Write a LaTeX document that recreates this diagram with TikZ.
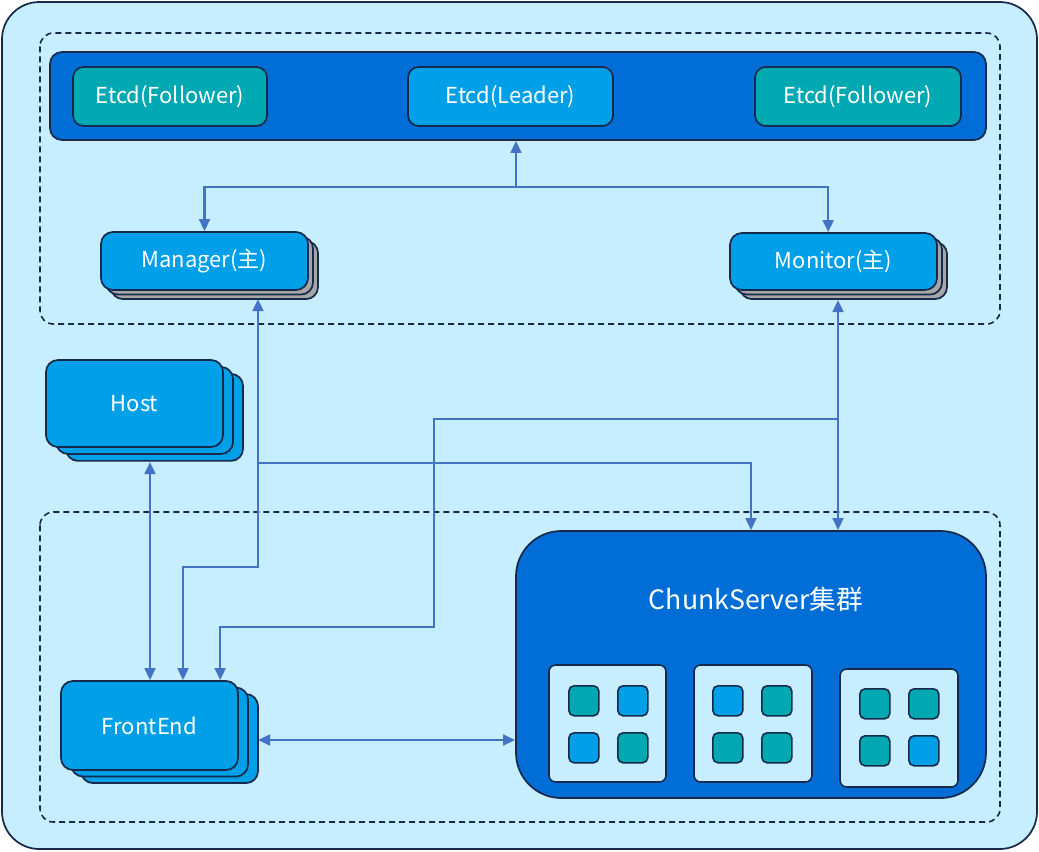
\documentclass[tikz,border=0pt]{standalone}
\usepackage{fontspec}
\setmainfont{Noto Sans CJK SC}
\usetikzlibrary{arrows.meta,fit,shadows,positioning}
\definecolor{canvas}{HTML}{C6EEFE}
\definecolor{navy}{HTML}{172A4C}
\definecolor{deepblue}{HTML}{006ED6}
\definecolor{skyblue}{HTML}{00A0E9}
\definecolor{tealbox}{HTML}{00A8B2}
\definecolor{stackgray}{HTML}{A6A6A6}
\definecolor{linkblue}{HTML}{4472C4}
\tikzset{
  boxtext/.style={text=white,font=\fontsize{16.5}{20}\selectfont,inner sep=0pt},
  panel/.style={draw=navy,line width=1.3pt,inner sep=0pt},
  etcdbox/.style={panel,rounded corners=8pt},
  stackbox/.style={panel,rounded corners=9pt,fill=skyblue},
  graystack/.style={stackbox,
    copy shadow={shadow xshift=7.5pt,shadow yshift=-6.8pt,fill=stackgray,draw=navy,line width=1.3pt},
    copy shadow={shadow xshift=3.75pt,shadow yshift=-3.4pt,fill=stackgray,draw=navy,line width=1.3pt}},
  bluestack/.style 2 args={stackbox,
    copy shadow={shadow xshift=2*#1,shadow yshift=-2*#2,fill=skyblue,draw=navy,line width=1.3pt},
    copy shadow={shadow xshift=#1,shadow yshift=-#2,fill=skyblue,draw=navy,line width=1.3pt}},
  zone/.style={draw=navy,line width=1.2pt,dash pattern=on 4.5pt off 3pt,rounded corners=10pt},
  serverbox/.style={draw=navy,line width=1.2pt,fill=canvas,rounded corners=5pt,inner sep=0pt},
  disk/.style={draw=navy,line width=1.2pt,rounded corners=4pt,minimum size=22.5pt,inner sep=0pt,anchor=north west},
  link/.style={draw=linkblue,line width=1.9pt,arrows={-},>={Triangle[length=9pt,width=8pt]}}
}

\begin{document}
\begin{tikzpicture}[x=0.75pt,y=-0.75pt]
\useasboundingbox (0,0) rectangle (1039,851);
\fill[white] (0,0) rectangle (1039,851);
\draw[draw=navy,line width=1.3pt,fill=canvas,rounded corners=28pt] (2,2) rectangle (1037,849);
\draw[zone] (40,33) rectangle (1000,324);
\draw[zone] (40,512) rectangle (1000,822);

\node[panel,fill=deepblue,rounded corners=9pt,fit={(50,52) (986,140)}] (etcd) {};
\node[etcdbox,fill=tealbox,fit={(73,67) (267,126)},label={[boxtext]center:Etcd(Follower)}] (etcdf1) {};
\node[etcdbox,fill=skyblue,fit={(408,67) (613,126)},label={[boxtext]center:Etcd(Leader)}] (leader) {};
\node[etcdbox,fill=tealbox,fit={(755,67) (961,126)},label={[boxtext]center:Etcd(Follower)}] (etcdf2) {};

\node[graystack,fit={(101,232) (308,290)},label={[boxtext]center:Manager(主)}] (manager) {};
\node[graystack,fit={(730,233) (937,290)},label={[boxtext]center:Monitor(主)}] (monitor) {};
\node[bluestack={7.5pt}{5.2pt},fit={(46,360) (223,447)},label={[boxtext]center:Host}] (host) {};
\node[bluestack={7.5pt}{4.9pt},fit={(61,681) (238,770)},label={[boxtext]center:FrontEnd}] (fe) {};

\node[panel,fill=deepblue,rounded corners=34pt,fit={(516,531) (986,798)}] (chunk) {};
\node[boxtext,font=\fontsize{20}{24}\selectfont] (chunktitle) at (756,599) {ChunkServer集群};

\node[serverbox,fit={(549,665) (666,782)}] (srv1) {};
\node[serverbox,fit={(694,665) (812,782)}] (srv2) {};
\node[serverbox,fit={(840,669) (958,787)}] (srv3) {};
\foreach \bx/\by/\ca/\cb/\cc/\cd [count=\i] in
  {568/685/tealbox/skyblue/skyblue/tealbox,
   712/685/skyblue/tealbox/tealbox/tealbox,
   859/688/tealbox/tealbox/tealbox/skyblue}{
  \node[disk,fill=\ca] (d\i a) at (\bx,\by) {};
  \node[disk,fill=\cb] (d\i b) at (\bx+49,\by) {};
  \node[disk,fill=\cc] (d\i c) at (\bx,\by+47) {};
  \node[disk,fill=\cd] (d\i d) at (\bx+49,\by+47) {};
}

\coordinate (bus) at (516,187);
\coordinate (mgrport) at (258,299);
\coordinate (monport) at (838,300);
\coordinate (hostport) at (150,462);
\coordinate (feport) at (258,740);
\coordinate (mgrbend) at (183,567);

\draw[link,->] (bus) -- (bus |- etcd.south);
\draw[link,<->] (manager.north) |- (bus) -| ([xshift=-4pt]monitor.north);
\draw[link,<->] (hostport) -- (hostport |- fe.north);
\draw[link,<->] (mgrport) |- (mgrbend) -- (mgrbend |- fe.north);
\draw[link,->] (258,463) -| (chunk.north);
\draw[link,<->] (monport) -- (monport |- chunk.north);
\draw[link,->] (838,419) -| (434,627) -| ([xshift=53pt]fe.north);
\draw[link,<->] (feport) -- (feport -| chunk.west);
\end{tikzpicture}
\end{document}
